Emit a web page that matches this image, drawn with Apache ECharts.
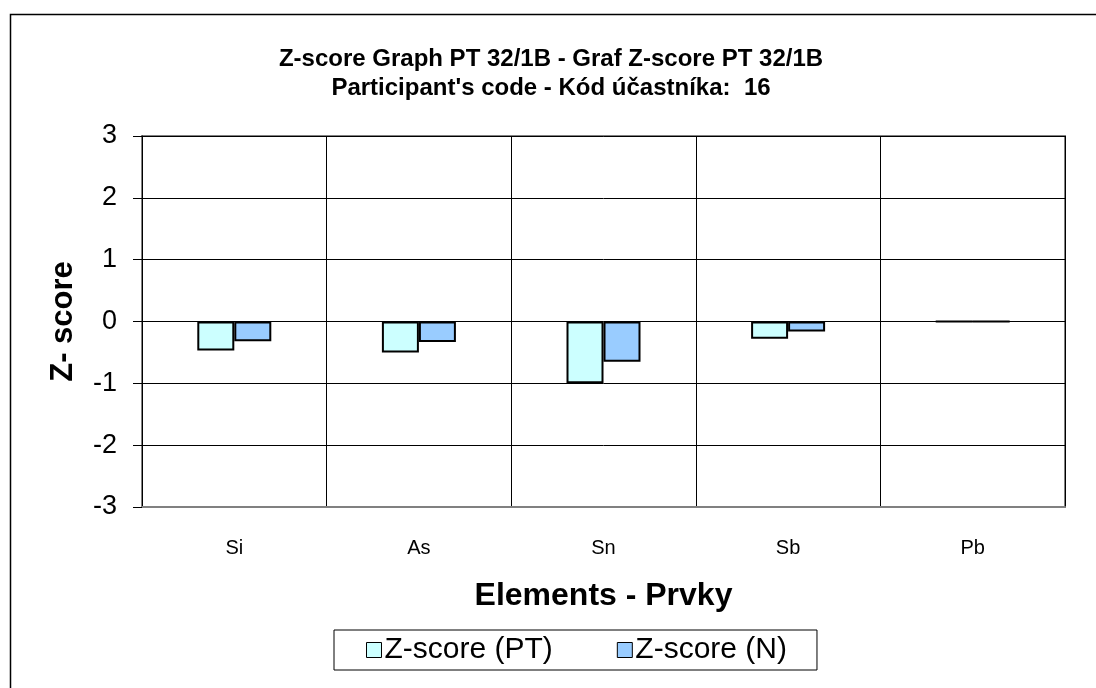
<!DOCTYPE html>
<html>
<head>
<meta charset="utf-8">
<script src="https://cdn.jsdelivr.net/npm/echarts@6/dist/echarts.min.js"></script>
<style>
html,body{margin:0;padding:0;background:#fff;}
#c{width:1096px;height:688px;}
</style>
</head>
<body>
<div id="c"></div>
<script>
const categories = ['Si', 'As', 'Sn', 'Sb', 'Pb'];
const zPT = [-0.47, -0.50, -1.00, -0.28, 0.0];
const zN = [-0.32, -0.33, -0.65, -0.16, 0.0];
const yTicks = { min: -3, max: 3, interval: 1 };
const titleLines = ['Z-score Graph PT 32/1B - Graf Z-score PT 32/1B', "Participant's code - Kód účastníka:  16"];
const seriesNames = ['Z-score (PT)', 'Z-score (N)'];
const xName = 'Elements - Prvky';
const yName = 'Z- score';

const FONT = 'Liberation Sans, Arial, sans-serif';
const chart = echarts.init(document.getElementById('c'), null, { renderer: 'canvas' });
chart.setOption({
  animation: false,
  backgroundColor: '#fff',
  textStyle: { fontFamily: FONT, color: '#000' },
  title: {
    text: titleLines.join('\n'),
    left: 546, top: 40, textAlign: 'center',
    textStyle: { fontFamily: FONT, fontSize: 24, fontWeight: 'bold', color: '#000', lineHeight: 29 }
  },
  graphic: [{
    type: 'rect', left: 8, top: 12, silent: true,
    shape: { width: 1200, height: 800 },
    style: { fill: 'none', stroke: '#000', lineWidth: 1.5 }
  }],
  legend: {
    left: 334, top: 630, itemGap: 64,
    padding: [5, 30, 5, 32],
    borderColor: '#000', borderWidth: 1,
    icon: 'rect', itemWidth: 15, itemHeight: 15,
    itemStyle: { borderColor: '#000', borderWidth: 1 },
    textStyle: { fontFamily: FONT, fontSize: 30, color: '#000', padding: [0, 0, 0, -2] },
    data: seriesNames
  },
  grid: {
    left: 142, right: 31, top: 136, bottom: 181,
    show: true, borderColor: '#808080', borderWidth: 2
  },
  xAxis: {
    type: 'category', data: categories,
    axisLine: { onZero: false, lineStyle: { color: '#808080', width: 2 } },
    axisTick: { show: false },
    splitLine: { show: true, lineStyle: { color: '#000', width: 1 } },
    axisLabel: { fontFamily: FONT, fontSize: 20, color: '#000', margin: 31 },
    name: xName, nameLocation: 'middle', nameGap: 73,
    nameTextStyle: { fontFamily: FONT, fontSize: 32, fontWeight: 'bold', color: '#000' }
  },
  yAxis: {
    type: 'value', min: yTicks.min, max: yTicks.max, interval: yTicks.interval,
    axisLine: { show: true, lineStyle: { color: '#000', width: 1 } },
    axisTick: { show: true, length: 9, lineStyle: { color: '#000' } },
    splitLine: { show: true, lineStyle: { color: '#000', width: 1 } },
    axisLabel: { fontFamily: FONT, fontSize: 27, color: '#000', margin: 25 },
    name: yName, nameLocation: 'middle', nameGap: 63, nameRotate: 90,
    nameTextStyle: { fontFamily: FONT, fontSize: 31, fontWeight: 'bold', color: '#000' }
  },
  series: [
    { name: seriesNames[0], type: 'bar', data: zPT, barWidth: 37, barGap: '0%',
      itemStyle: { color: '#CCFFFF', borderColor: '#000', borderWidth: 2 } },
    { name: seriesNames[1], type: 'bar', data: zN, barWidth: 37, barGap: '0%',
      itemStyle: { color: '#99CCFF', borderColor: '#000', borderWidth: 2 } }
  ]
});
</script>
</body>
</html>
